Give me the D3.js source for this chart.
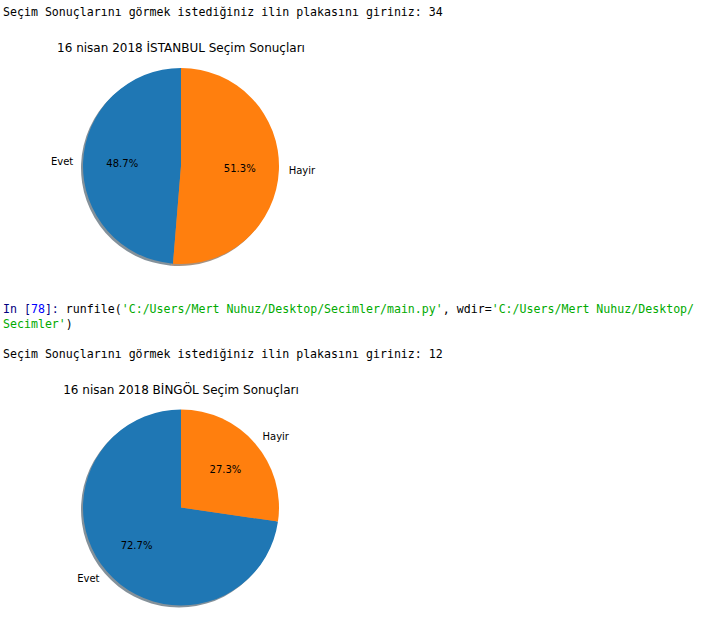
<!DOCTYPE html>
<html><head><meta charset="utf-8">
<script src="https://cdn.jsdelivr.net/npm/d3@7"></script>
<style>body{margin:0;background:#fff}svg{display:block}</style>
</head><body>
<script>
const categories = ["Evet", "Hayir"];
const istanbulValues = [48.7, 51.3];
const bingolValues = [72.7, 27.3];
const charts = [
  {title: "16 nisan 2018 İSTANBUL Seçim Sonuçları", values: istanbulValues},
  {title: "16 nisan 2018 BİNGÖL Seçim Sonuçları", values: bingolValues}
];
const colors = ["#1f77b4", "#ff7f0e"];

const W = 707, H = 637;
const svg = d3.select("body").append("svg").attr("width", W).attr("height", H);

const mono = "'DejaVu Sans Mono', 'Liberation Mono', monospace";
const monoSize = "11.6px";
function consoleLine(y, parts) {
  const t = svg.append("text").attr("x", 3).attr("y", y)
    .attr("font-family", mono).attr("font-size", monoSize).attr("xml:space", "preserve")
    .style("white-space", "pre");
  parts.forEach(p => t.append("tspan").attr("fill", p[1]).text(p[0]));
}
consoleLine(16, [["Seçim Sonuçlarını görmek istediğiniz ilin plakasını giriniz: 34", "#000"]]);
consoleLine(313, [["In [", "#000080"], ["78", "#0000ff"], ["]: ", "#000080"], ["runfile(", "#000"],
  ["'C:/Users/Mert Nuhuz/Desktop/Secimler/main.py'", "#00aa00"], [", wdir=", "#000"],
  ["'C:/Users/Mert Nuhuz/Desktop/", "#00aa00"]]);
consoleLine(328, [["Secimler'", "#00aa00"], [")", "#000"]]);
consoleLine(358, [["Seçim Sonuçlarını görmek istediğiniz ilin plakasını giriniz: 12", "#000"]]);

const font = "'DejaVu Sans', sans-serif";
const R = 98;
const layout = [{cx: 181, cy: 166, ty: 52}, {cx: 181, cy: 507.5, ty: 393.5}];

const pie = d3.pie().sort(null).startAngle(0).endAngle(-2 * Math.PI);
const arc = d3.arc().innerRadius(0).outerRadius(R);

charts.forEach((c, i) => {
  const L = layout[i];
  svg.append("text").attr("x", L.cx).attr("y", L.ty).attr("text-anchor", "middle")
    .attr("font-family", font).attr("font-size", "12px").attr("fill", "#000").text(c.title);
  const arcs = pie(c.values);
  // shadow
  const sh = svg.append("g").attr("transform", `translate(${L.cx - 2},${L.cy + 2})`);
  sh.selectAll("path").data(arcs).join("path").attr("d", arc)
    .attr("fill", (d, j) => { const k = d3.rgb(colors[j]); return d3.rgb(k.r * 0.3, k.g * 0.3, k.b * 0.3); })
    .attr("opacity", 0.5);
  const g = svg.append("g").attr("transform", `translate(${L.cx},${L.cy})`);
  g.selectAll("path").data(arcs).join("path").attr("d", arc).attr("fill", (d, j) => colors[j]);
  arcs.forEach((d, j) => {
    const a = (d.startAngle + d.endAngle) / 2;
    const lx = Math.sin(a) * R * 1.1, ly = -Math.cos(a) * R * 1.1;
    g.append("text").attr("x", lx).attr("y", ly).attr("dy", "0.35em")
      .attr("text-anchor", lx > 0 ? "start" : "end")
      .attr("font-family", font).attr("font-size", "10px").attr("fill", "#000")
      .text(categories[j]);
    const px = Math.sin(a) * R * 0.6, py = -Math.cos(a) * R * 0.6;
    g.append("text").attr("x", px).attr("y", py).attr("dy", "0.35em")
      .attr("text-anchor", "middle")
      .attr("font-family", font).attr("font-size", "10px").attr("fill", "#000")
      .text(c.values[j].toFixed(1) + "%");
  });
});
</script>
</body></html>
